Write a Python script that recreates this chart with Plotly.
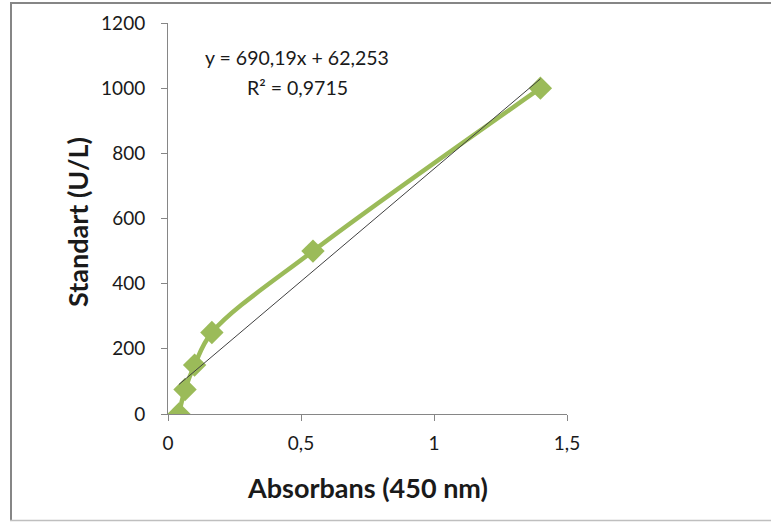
import plotly.graph_objects as go

absorbance = [0.041, 0.064, 0.100, 0.165, 0.545, 1.400]
standard = [0, 75, 150, 250, 500, 1000]
slope = 690.19
intercept = 62.253
trend_x = [min(absorbance), max(absorbance)]
trend_y = [slope * x + intercept for x in trend_x]
x_ticks = [0, 0.5, 1, 1.5]
x_tick_labels = ["0", "0,5", "1", "1,5"]
y_ticks = [0, 200, 400, 600, 800, 1000, 1200]
y_tick_labels = ["0", "200", "400", "600", "800", "1000", "1200"]

green = "#9BBB59"
font_family = "Lato, 'Open Sans', sans-serif"

fig = go.Figure()
fig.add_trace(go.Scatter(
    x=absorbance, y=standard, mode="lines+markers",
    line=dict(color=green, width=4.5, shape="spline", smoothing=1),
    marker=dict(symbol="diamond", size=18, color=green),
    showlegend=False, hoverinfo="skip"))
fig.add_trace(go.Scatter(
    x=trend_x, y=trend_y, mode="lines",
    line=dict(color="#404040", width=1),
    showlegend=False, hoverinfo="skip"))

L, R, T, B = 168, 567, 23, 414
W, H = 771, 522
pw, ph = R - L, B - T
def px(xp): return (xp - L) / pw
def py(yp): return (B - yp) / ph

shapes = [
    dict(type="line", xref="paper", yref="paper", x0=px(11), x1=px(11), y0=py(2), y1=py(521), line=dict(color="#868686", width=2)),
    dict(type="line", xref="paper", yref="paper", x0=px(10), x1=px(790), y0=py(3), y1=py(3), line=dict(color="#868686", width=2)),
    dict(type="line", xref="paper", yref="paper", x0=px(10), x1=px(790), y0=py(520.5), y1=py(520.5), line=dict(color="#BFBFBF", width=1.5)),
]

fig.update_layout(
    width=W, height=H,
    margin=dict(l=L, r=W - R, t=T, b=H - B),
    paper_bgcolor="white", plot_bgcolor="white",
    font=dict(family=font_family, size=19, color="#1a1a1a"),
    shapes=shapes,
    xaxis=dict(range=[0, 1.5], tickvals=x_ticks, ticktext=x_tick_labels,
               showgrid=False, zeroline=False, showline=True, linecolor="#868686", linewidth=1,
               ticks="outside", ticklen=6, tickcolor="#868686", ticklabelstandoff=6),
    yaxis=dict(range=[0, 1200], tickvals=y_ticks, ticktext=y_tick_labels,
               showgrid=False, zeroline=False, showline=True, linecolor="#868686", linewidth=1,
               ticks="outside", ticklen=6, tickcolor="#868686", ticklabelstandoff=12),
    annotations=[
        dict(xref="paper", yref="paper", x=px(297), y=py(58), text="y = 690,19x + 62,253",
             showarrow=False, font=dict(size=19.5), xanchor="center", yanchor="middle"),
        dict(xref="paper", yref="paper", x=px(297), y=py(87), text="R² = 0,9715",
             showarrow=False, font=dict(size=19.5), xanchor="center", yanchor="middle"),
        dict(xref="paper", yref="paper", x=px(367), y=py(487), text="<b>Absorbans (450 nm)</b>",
             showarrow=False, font=dict(size=27), xanchor="center", yanchor="middle"),
        dict(xref="paper", yref="paper", x=px(77), y=py(222), text="<b>Standart (U/L)</b>",
             showarrow=False, font=dict(size=27), xanchor="center", yanchor="middle", textangle=-90),
    ],
)
fig.write_html("out.html", config={"displayModeBar": False},
               post_script="document.body.style.margin='0px';")
